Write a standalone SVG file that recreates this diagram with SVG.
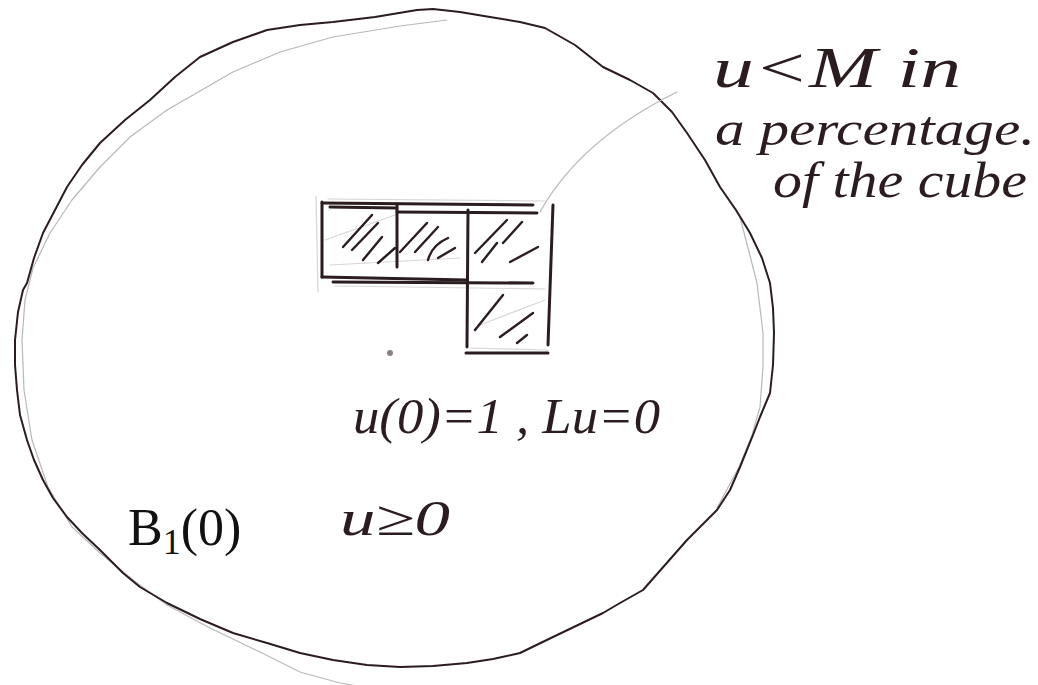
<svg xmlns="http://www.w3.org/2000/svg" width="1038" height="685" viewBox="0 0 1038 685">
<style>
.ink{fill:none;stroke:#2b1d1f;stroke-linecap:round;stroke-linejoin:round}
.pencil{fill:none;stroke:#b8b8b8;stroke-width:1.2;stroke-linecap:round;stroke-linejoin:round}
.faint{fill:none;stroke:#d6d6d6;stroke-width:1.2;stroke-linecap:round}
.hand{font-family:"Liberation Serif",serif;font-style:italic;fill:#2b1d1f}
.print{font-family:"Liberation Serif",serif;fill:#111}
.frame{stroke-width:3}
.hatch{stroke-width:2.4}
</style>
<rect width="1038" height="685" fill="#fff"/>
<g id="ball">
<path class="pencil" d="M447,20 L400,26 L333,37 L280,52 L233,72 L167,110 L130,137 L100,167 L72,200 L50,233 L33,268 L25,300 L22,340 L24,390 L32,440 L48,487 L72,527 L100,553 L133,580 L167,605 L210,628 L260,652 L300,672 L340,683 L380,690 M717,508 L740,465 L752,435 L760,407 L763,367 L763,333 L757,283 L740,217 L720,187"/>
<path class="ink" stroke-width="2" d="M433,9 L460,12 L490,17 L520,22 L545,28 L575,45 L603,67 L630,80 L653,93 L672,112 L687,133 L705,160 L720,187 L736,210 L750,233 L762,258 L770,283 L773,308 L774,333 L773,365 L770,393 L760,417 L753,435 L740,467 L730,490 L717,510 L700,527 L687,540 L665,565 L643,590 L620,603 L603,613 L578,625 L553,637 L520,653 L493,659 L467,663 L433,666 L400,667 L367,665 L333,660 L300,653 L267,643 L233,633 L200,619 L167,603 L140,587 L123,573 L100,550 L82,533 L67,517 L53,498 L43,480 L34,460 L27,440 L20,415 L17,390 L15,365 L15,340 L18,312 L23,290 L27,283 L34,258 L43,233 L55,210 L67,187 L82,165 L100,143 L125,120 L150,100 L175,77 L200,57 L233,42 L267,30 L300,25 L333,22 L375,17 L417,10 Z"/>
</g>
<g id="cubes">
<path class="pencil" d="M540,212 Q580,140 677,92"/>
<g class="faint">
<path d="M316,196 L318,292"/>
<path d="M328,199 L545,201"/>
<path d="M335,286 L545,289"/>
<path d="M330,265 L460,258"/>
<path d="M470,348 L548,350"/>
<path d="M325,240 L395,215"/>
<path d="M480,325 L545,300"/>
</g>
<g class="ink frame">
<path d="M322,202 L322,277"/>
<path d="M322,203 L533,205"/>
<path d="M330,207 L397,208"/>
<path d="M397,212 L537,213"/>
<path d="M397,204 L397,267"/>
<path d="M468,210 L467,347"/>
<path d="M553,205 L548,345"/>
<path d="M322,277 L467,280"/>
<path d="M333,282 L533,283"/>
<path d="M466,353 L548,353"/>
</g>
<g class="ink hatch">
<path d="M343,247 L372,215"/>
<path d="M352,250 L378,223"/>
<path d="M363,260 L382,237"/>
<path d="M378,263 L395,248"/>
<path d="M400,252 L427,223"/>
<path d="M415,252 L438,227"/>
<path d="M428,260 Q432,245 448,238"/>
<path d="M438,258 L455,248"/>
<path d="M475,253 L507,220"/>
<path d="M482,262 L497,243"/>
<path d="M503,243 L522,222"/>
<path d="M510,262 L538,247"/>
<path d="M475,330 L503,295"/>
<path d="M500,337 L533,313"/>
<path d="M517,343 L527,335"/>
</g>
<circle cx="390" cy="353" r="3" fill="#8a8080"/>
</g>
<g id="labels">
<text class="hand" x="713" y="87" font-size="58" textLength="248" lengthAdjust="spacingAndGlyphs">u&lt;M in</text>
<text class="hand" x="715" y="145" font-size="48" textLength="320" lengthAdjust="spacingAndGlyphs">a percentage.</text>
<text class="hand" x="773" y="197" font-size="50" textLength="254" lengthAdjust="spacingAndGlyphs">of the cube</text>
<text class="hand" x="353" y="433" font-size="50" textLength="307" lengthAdjust="spacingAndGlyphs">u(0)=1 , Lu=0</text>
<text class="hand" x="340" y="535" font-size="50" textLength="110" lengthAdjust="spacingAndGlyphs">u≥0</text>
<text class="print" x="128" y="545" font-size="52">B<tspan font-size="36" dy="9">1</tspan><tspan dy="-9">(0)</tspan></text>
</g>
</svg>
